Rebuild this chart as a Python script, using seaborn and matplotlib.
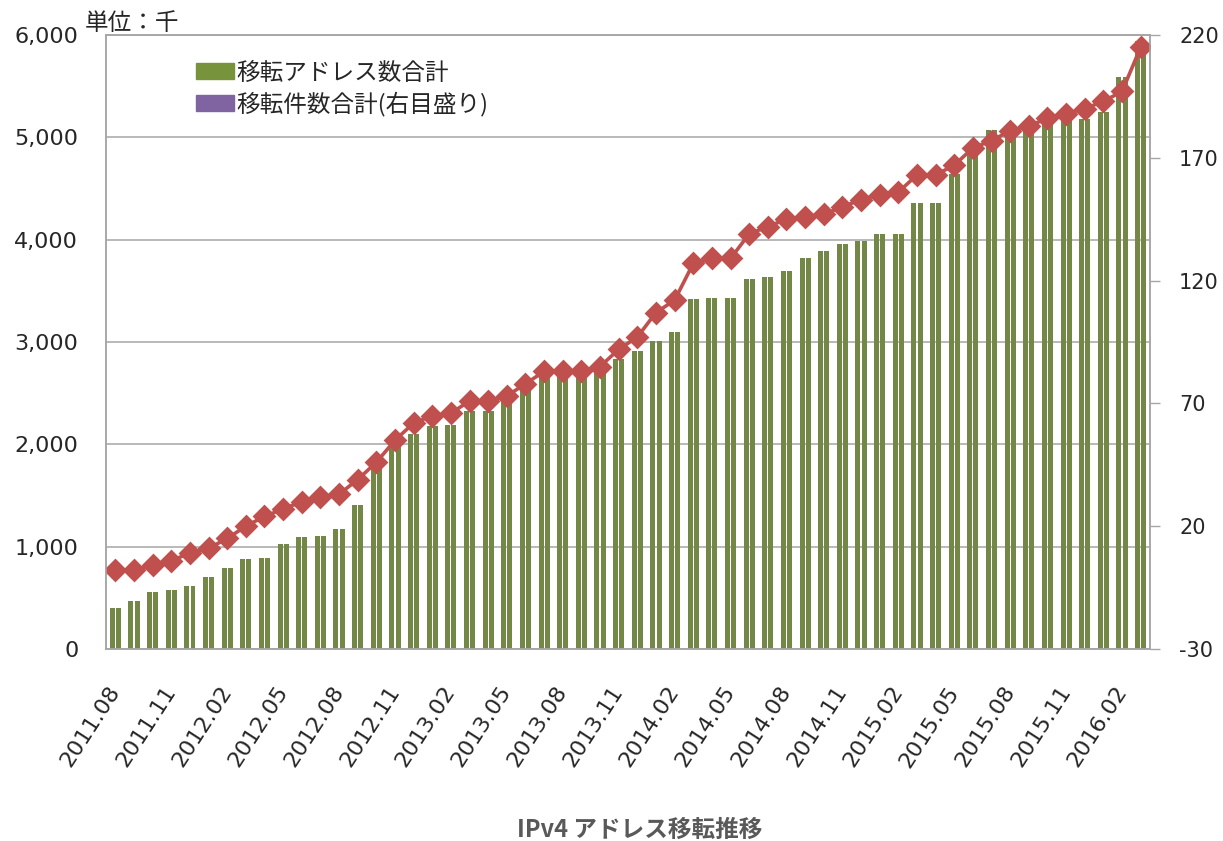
import numpy as np
import pandas as pd
import seaborn as sns
import matplotlib.pyplot as plt
import matplotlib.ticker as mticker
from matplotlib.patches import Patch

# months 2011.08 .. 2016.03
months = list(pd.period_range("2011-08", "2016-03", freq="M").strftime("%Y.%m"))

# 移転アドレス数合計 (千)
address_total = [404, 469, 554, 580, 616, 701, 795, 880, 886, 1026,
                 1095, 1105, 1168, 1405, 1760, 1978, 2105, 2177, 2188, 2328,
                 2328, 2440, 2548, 2678, 2700, 2710, 2740, 2835, 2916, 3011,
                 3102, 3421, 3428, 3428, 3614, 3633, 3689, 3822, 3886, 3960,
                 3982, 4053, 4055, 4363, 4363, 4643, 4845, 5073, 5080, 5100,
                 5138, 5171, 5178, 5243, 5585, 5937]

# 移転件数合計 (右目盛り)
transfer_count = [2, 2, 4, 6, 9, 11, 15, 20, 24, 27,
                  30, 32, 33, 39, 46, 55, 62, 65, 66, 71,
                  71, 73, 78, 83, 83, 83, 85, 92, 97, 107,
                  112, 127, 129, 129, 139, 142, 145, 146, 147, 150,
                  153, 155, 156, 163, 163, 167, 174, 177, 181, 183,
                  186, 188, 190, 193, 197, 215]

GREEN = "#77933C"
PURPLE = "#8064A2"
RED = "#C0504D"
GRID = "#A6A6A6"
JP = ["Noto Sans CJK JP", "DejaVu Sans"]

sns.set_theme(style="white")
plt.rcParams["font.family"] = ["DejaVu Sans", "Noto Sans CJK JP"]
plt.rcParams["axes.unicode_minus"] = False

# each month drawn as a pair of thin bars
bars = pd.concat([
    pd.DataFrame({"month": months, "addresses": address_total, "part": p})
    for p in ["L", "R"]
])

fig = plt.figure(figsize=(12.23, 8.41), dpi=100)
ax = fig.add_axes([0.0867, 0.2283, 0.8536, 0.7301])

sns.barplot(data=bars, x="month", y="addresses", hue="part", hue_order=["L", "R"],
            palette=[GREEN, GREEN], width=0.66, gap=0.19, legend=False,
            errorbar=None, ax=ax, linewidth=0)

ax2 = ax.twinx()
sns.pointplot(x=months, y=transfer_count, ax=ax2, color=RED, markers="D",
              markersize=10.5, linewidth=2.6, errorbar=None)

# left axis
ax.set_ylim(0, 6000)
ax.set_yticks(np.arange(0, 6001, 1000))
ax.yaxis.set_major_formatter(mticker.FuncFormatter(lambda v, _: f"{int(v):,}"))
ax.yaxis.grid(True, color=GRID, lw=1.1)
ax.set_axisbelow(True)
ax.set_ylabel("")
ax.set_xlabel("")

# right axis
ax2.set_ylim(-30, 220)
ax2.set_yticks(np.arange(-30, 221, 50))
ax2.set_ylabel("")
ax2.grid(False)

# x axis: labels every 3 months, ticks between categories
ax.set_xlim(-0.5, len(months) - 0.5)
ax.set_xticks(np.arange(0, len(months), 3))
ax.set_xticklabels(months[::3], rotation=57, ha="right", va="center",
                   rotation_mode="anchor", fontsize=16)
ax.set_xticks(np.arange(-0.5, len(months) - 2, 3), minor=True)
ax.tick_params(axis="x", which="major", length=0, pad=28)
ax.tick_params(axis="x", which="minor", length=7, width=1, color=GRID, direction="out")
ax.tick_params(axis="y", length=0, pad=20, labelsize=16)
ax2.tick_params(axis="y", length=7, width=1, color=GRID, direction="out",
                pad=14, labelsize=15)

for a in (ax, ax2):
    for s in a.spines.values():
        s.set_color(GRID)
        s.set_linewidth(1.1)

handles = [Patch(color=GREEN), Patch(color=PURPLE)]
ax.legend(handles, ["移転アドレス数合計", "移転件数合計(右目盛り)"],
          loc="upper left", bbox_to_anchor=(0.077, 0.972), frameon=False,
          prop={"family": JP, "size": 17}, handlelength=1.6, handleheight=0.65,
          handletextpad=0.1, labelspacing=0.3, borderaxespad=0)

fig.text(0.069, 0.958, "単位：千", family=JP, fontsize=17, va="bottom", ha="left")
fig.text(0.523, 0.013, "IPv4 アドレス移転推移", family=JP, fontsize=17,
         fontweight="bold", color="#595959", ha="center", va="center")

fig.savefig("out.png", dpi=100)
